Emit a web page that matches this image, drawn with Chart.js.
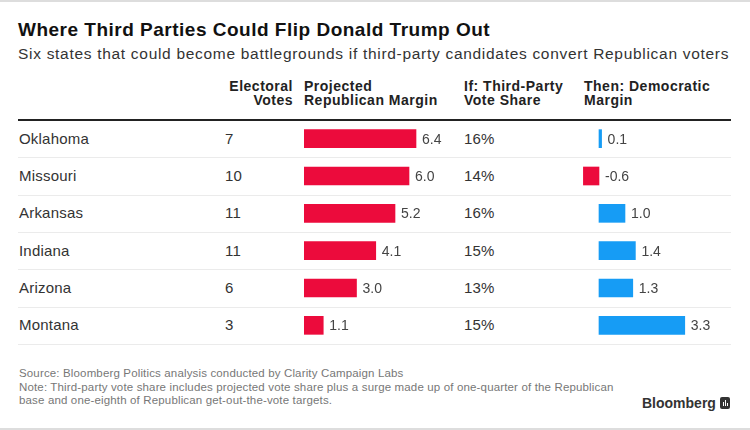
<!DOCTYPE html>
<html>
<head>
<meta charset="utf-8">
<script src="https://cdn.jsdelivr.net/npm/chart.js@4/dist/chart.umd.min.js"></script>
<style>
  html, body { margin: 0; padding: 0; background: #fff; }
  body { width: 750px; height: 430px; position: relative; overflow: hidden;
         font-family: "Liberation Sans", Arial, sans-serif; }
  .abs { position: absolute; white-space: nowrap; }
  .title { left: 18px; top: 19px; font-size: 19px; line-height: 22px; font-weight: bold; color: #111; letter-spacing: 0.5px; }
  .subtitle { left: 18px; top: 45px; font-size: 15.5px; line-height: 18px; color: #333; letter-spacing: 0.7px; }
  .head { top: 79px; font-size: 14px; line-height: 14px; font-weight: bold; color: #222; letter-spacing: 0.5px; }
  .cell { font-size: 15px; line-height: 20px; height: 20px; color: #333; letter-spacing: 0.2px; }
  .rule { position: absolute; left: 18px; width: 713px; height: 1px; background: #ebebeb; }
  .foot { left: 19px; top: 367px; font-size: 11.5px; line-height: 13.5px; color: #777; letter-spacing: 0.15px; }
  .brand { left: 642px; top: 395px; font-size: 14px; line-height: 16px; font-weight: bold; color: #333; }
  .brand .ico { display: inline-block; position: relative; width: 10px; height: 12px; background: #333; border-radius: 2px;
                vertical-align: -1px; margin-left: 4px; }
  .brand .ico i { position: absolute; bottom: 3px; width: 1px; background: #fff; }
  canvas { position: absolute; }
</style>
</head>
<body>
<div style="position:absolute;left:0;top:0;width:750px;height:2px;background:#ddd"></div>
<div style="position:absolute;left:0;top:428px;width:750px;height:2px;background:#ddd"></div>

<div class="abs title">Where Third Parties Could Flip Donald Trump Out</div>
<div class="abs subtitle">Six states that could become battlegrounds if third-party candidates convert Republican voters</div>

<div class="abs head" style="right:457px;text-align:right">Electoral<br>Votes</div>
<div class="abs head" style="left:304px">Projected<br>Republican Margin</div>
<div class="abs head" style="left:464px">If: Third-Party<br>Vote Share</div>
<div class="abs head" style="left:584px">Then: Democratic<br>Margin</div>

<div style="position:absolute;left:18px;top:119px;width:713px;height:2px;background:#222"></div>

<div id="rows"></div>

<canvas id="repChart" width="156" height="224" style="left:304px;top:120px;width:156px;height:224px"></canvas>
<canvas id="demChart" width="170" height="224" style="left:560px;top:120px;width:170px;height:224px"></canvas>

<div class="abs foot">Source: Bloomberg Politics analysis conducted by Clarity Campaign Labs<br>Note: Third-party vote share includes projected vote share plus a surge made up of one-quarter of the Republican<br>base and one-eighth of Republican get-out-the-vote targets.</div>
<div class="abs brand">Bloomberg<span class="ico"><i style="left:3px;height:4px"></i><i style="left:5px;height:6px"></i><i style="left:7px;height:3px"></i></span></div>

<script>
// 数据
const states = ['Oklahoma', 'Missouri', 'Arkansas', 'Indiana', 'Arizona', 'Montana'];
const electoralVotes = [7, 10, 11, 11, 6, 3];
const repMargin = [6.4, 6.0, 5.2, 4.1, 3.0, 1.1];
const thirdPartyShare = [16, 14, 16, 15, 13, 15];
const demMargin = [0.1, -0.6, 1.0, 1.4, 1.3, 3.3];

const red = '#ec0b3c';
const blue = '#169cf5';
const rowTop = 120;
const rowH = 224 / states.length;

// 表格文字和分隔线
const rowsEl = document.getElementById('rows');
states.forEach((s, i) => {
    const cy = rowTop + rowH * (i + 0.5);
    const cells = [
        [19, s],
        [225, String(electoralVotes[i])],
        [464, thirdPartyShare[i] + '%']
    ];
    cells.forEach(([x, t]) => {
        const d = document.createElement('div');
        d.className = 'abs cell';
        d.style.left = x + 'px';
        d.style.top = (cy - 10) + 'px';
        d.textContent = t;
        rowsEl.appendChild(d);
    });
    const r = document.createElement('div');
    r.className = 'rule';
    r.style.top = Math.round(rowTop + rowH * (i + 1)) + 'px';
    rowsEl.appendChild(r);
});

// 数值标签插件
const valueLabels = {
    id: 'valueLabels',
    afterDatasetsDraw(chart) {
        const ctx = chart.ctx;
        const ds = chart.data.datasets[0];
        const zero = chart.scales.x.getPixelForValue(0);
        ctx.save();
        ctx.font = '14px "Liberation Sans", Arial, sans-serif';
        ctx.fillStyle = '#444';
        ctx.textBaseline = 'middle';
        chart.getDatasetMeta(0).data.forEach((bar, i) => {
            const x = Math.max(bar.x, zero) + 6;
            ctx.fillText(ds.data[i].toFixed(1), x, bar.y + 1);
        });
        ctx.restore();
    }
};

const commonOptions = {
    responsive: false,
    animation: false,
    indexAxis: 'y',
    layout: { padding: 0 },
    plugins: { legend: { display: false }, tooltip: { enabled: false } },
};

// 共和党优势
new Chart(document.getElementById('repChart'), {
    type: 'bar',
    data: {
        labels: states,
        datasets: [{ data: repMargin, backgroundColor: red, barThickness: 18, borderWidth: 0 }]
    },
    options: {
        ...commonOptions,
        scales: {
            x: { display: false, min: 0, max: 156 / 17.5 },
            y: { display: false }
        }
    },
    plugins: [valueLabels]
});

// 民主党优势
new Chart(document.getElementById('demChart'), {
    type: 'bar',
    data: {
        labels: states,
        datasets: [{
            data: demMargin,
            backgroundColor: demMargin.map(v => v < 0 ? red : blue),
            barThickness: 18,
            borderWidth: 0
        }]
    },
    options: {
        ...commonOptions,
        scales: {
            x: { display: false, min: -1.5, max: 5.04 },
            y: { display: false }
        }
    },
    plugins: [valueLabels]
});
</script>
</body>
</html>
